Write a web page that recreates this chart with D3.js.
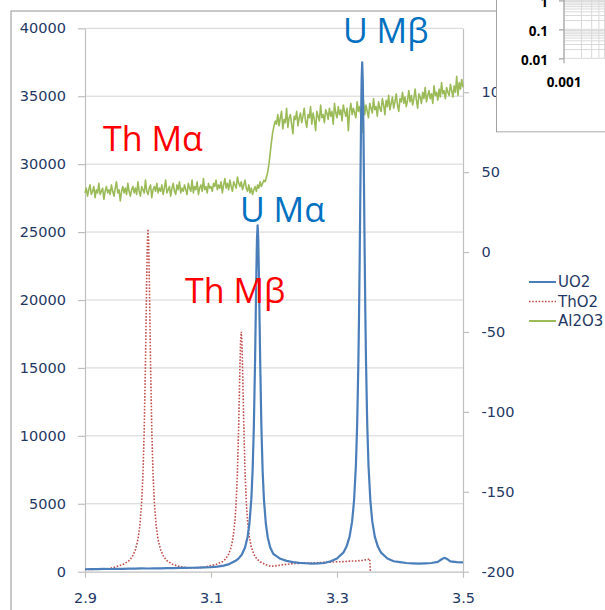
<!DOCTYPE html>
<html>
<head>
<meta charset="utf-8">
<script src="https://cdn.jsdelivr.net/npm/d3@7"></script>
<style>
  html, body { margin: 0; padding: 0; background: #ffffff; }
  svg { display: block; }
</style>
</head>
<body>
<svg id="chart" width="605" height="610"></svg>
<script>
// ---------------- DATA ----------------
const xTicks = [2.9, 3.1, 3.3, 3.5];
const leftTicks = [0, 5000, 10000, 15000, 20000, 25000, 30000, 35000, 40000];
const rightTicks = [-200, -150, -100, -50, 0, 50, 100];
const seriesNames = ["UO2", "ThO2", "Al2O3"];

// UO2 spectrum [energy keV, counts] (primary axis)
const uo2 = [[2.900,180],[2.910,195],[2.920,185],[2.930,205],[2.940,200],[2.950,215],[2.960,210],[2.970,230],[2.980,225],[2.990,240],[3.000,235],[3.010,250],[3.020,245],[3.030,265],[3.040,260],[3.050,275],[3.060,280],[3.070,290],[3.080,300],[3.090,320],[3.100,340],[3.110,380],[3.120,450],[3.129,560],[3.139,800],[3.144,980],[3.149,1270],[3.154,1780],[3.158,2540],[3.161,3550],[3.164,5340],[3.166,7380],[3.168,10630],[3.170,15670],[3.171,18820],[3.172,22020],[3.173,24530],[3.174,25500],[3.175,24530],[3.176,22020],[3.177,18820],[3.178,15670],[3.180,10630],[3.182,7380],[3.184,5340],[3.187,3550],[3.190,2540],[3.194,1780],[3.199,1300],[3.204,1150],[3.210,950],[3.220,800],[3.230,710],[3.240,650],[3.250,620],[3.260,600],[3.270,610],[3.280,640],[3.290,770],[3.300,970],[3.310,1400],[3.315,1830],[3.320,2580],[3.324,3700],[3.327,5190],[3.330,7820],[3.332,10830],[3.334,15610],[3.335,18950],[3.336,23030],[3.337,27670],[3.338,32380],[3.339,36070],[3.340,37500],[3.341,36070],[3.342,32380],[3.343,27670],[3.344,23030],[3.345,18950],[3.346,15610],[3.348,10830],[3.350,7820],[3.353,5190],[3.356,3700],[3.360,2580],[3.365,1830],[3.370,1400],[3.380,970],[3.390,770],[3.400,700],[3.410,640],[3.420,610],[3.430,590],[3.440,610],[3.450,640],[3.460,720],[3.465,880],[3.470,1020],[3.475,930],[3.480,760],[3.490,700],[3.500,680]];

// ThO2 spectrum [energy keV, counts] (primary axis)
const tho2 = [[2.900,170],[2.910,160],[2.920,190],[2.930,200],[2.940,240],[2.950,380],[2.960,520],[2.970,810],[2.975,1100],[2.980,1610],[2.984,2360],[2.987,3370],[2.990,5150],[2.992,7180],[2.994,10420],[2.996,15440],[2.997,18580],[2.998,21770],[2.999,24260],[3.000,25230],[3.001,24260],[3.002,21770],[3.003,18580],[3.004,15440],[3.006,10420],[3.008,7180],[3.010,5150],[3.013,3370],[3.016,2360],[3.020,1610],[3.025,1100],[3.030,810],[3.040,520],[3.050,380],[3.060,300],[3.070,280],[3.080,290],[3.090,330],[3.098,430],[3.108,530],[3.118,730],[3.123,930],[3.128,1280],[3.132,1810],[3.135,2510],[3.138,3740],[3.140,5150],[3.142,7390],[3.144,10870],[3.146,15260],[3.147,16990],[3.148,17660],[3.149,16990],[3.150,15260],[3.152,10870],[3.154,7390],[3.156,5150],[3.158,3740],[3.161,2510],[3.164,1810],[3.168,1280],[3.173,930],[3.178,730],[3.185,560],[3.190,470],[3.195,400],[3.200,420],[3.210,480],[3.220,540],[3.230,600],[3.240,610],[3.250,650],[3.260,640],[3.270,670],[3.280,690],[3.290,700],[3.300,730],[3.310,740],[3.320,780],[3.330,790],[3.340,830],[3.345,870],[3.350,910],[3.352,950],[3.353,0]];

// Al2O3 spectrum (secondary axis), sampled every 0.002 keV from 2.900
const al2o3Start = 2.900;
const al2o3Step = 0.002;
const al2o3 = [
  37,40,35,39,42,36,38,41,34,39,37,43,36,38,40,33,38,41,37,39,
  36,42,38,35,40,44,37,39,32,38,41,37,40,36,43,38,35,39,41,37,
  40,36,44,38,35,41,39,37,45,38,36,40,42,34,39,41,38,43,37,40,
  38,42,36,40,45,37,39,41,35,40,43,38,36,42,39,44,37,40,38,42,
  39,36,43,40,38,45,37,41,39,44,36,40,42,38,46,39,41,37,43,40,41,
  38,43,41,45,39,42,40,44,37,42,46,40,43,39,45,41,38,44,42,40,
  47,43,41,44,39,42,45,40,38,42,37,40,36,39,41,38,42,40,44,41,43,45,
  44,47,50,55,62,69,75,79,82,80,
  86,79,84,88,77,83,81,90,78,84,86,80,74,85,83,88,79,84,87,81,
  85,90,82,78,86,84,91,80,87,83,76,88,85,82,92,84,86,81,89,87,
  83,90,85,88,80,93,87,84,91,86,89,82,92,88,85,90,76,88,93,86,
  90,87,84,94,88,91,85,75,95,86,92,88,84,93,90,87,96,89,91,85,
  94,90,88,96,92,86,95,91,98,89,93,97,90,94,99,92,88,96,94,100,
  93,97,91,95,101,94,98,92,96,102,95,90,99,97,93,100,96,103,94,98,
  101,96,99,93,104,98,100,95,102,97,106,99,101,96,103,100,98,105,101,97,
  104,100,110,98,106,102,108,103
];

// Inset (fragment of another log-log chart)
const insetYTicks = [1, 0.1, 0.01];
const insetXTicks = [0.001];

// ---------------- DRAWING ----------------
const svg = d3.select("#chart");
const navy = "#1f3864";
const axisFont = "'DejaVu Sans', sans-serif";
const labelFont = "'Open Sans', sans-serif";

const x = d3.scaleLinear().domain([2.9, 3.5]).range([85, 463]);
const yL = d3.scaleLinear().domain([0, 40000]).range([571.7, 28.3]);
const yR = d3.scaleLinear().domain([-200, 140]).range([571.7, 28.3]);

// outer chart-area frame
svg.append("rect").attr("x", 11).attr("y", 11).attr("width", 800).attr("height", 800)
  .attr("fill", "none").attr("stroke", "#a6a6a6").attr("stroke-width", 1.2);

// gridlines
svg.append("g").selectAll("line").data(leftTicks.filter(d => d > 0)).join("line")
  .attr("x1", x(2.9)).attr("x2", x(3.5))
  .attr("y1", d => yL(d)).attr("y2", d => yL(d))
  .attr("stroke", "#d4d4d4").attr("stroke-width", 1);

// axes
function styleAxis(g) {
  g.selectAll("path").attr("stroke", "#bfbfbf").attr("stroke-width", 1.2);
  g.selectAll("line").attr("stroke", "#bfbfbf").attr("stroke-width", 1.2);
  g.selectAll("text").attr("fill", navy).attr("font-family", axisFont).attr("font-size", "14.5px");
}
const plain = d => String(d);
svg.append("g").attr("transform", "translate(85,0)")
  .call(d3.axisLeft(yL).tickValues(leftTicks).tickSize(7).tickSizeOuter(0).tickPadding(12).tickFormat(plain))
  .call(styleAxis);
svg.append("g").attr("transform", "translate(463,0)")
  .call(d3.axisRight(yR).tickValues(rightTicks).tickSize(6).tickSizeOuter(0).tickPadding(12.5).tickFormat(plain))
  .call(styleAxis);
svg.append("g").attr("transform", "translate(0,571.7)")
  .call(d3.axisBottom(x).tickValues(xTicks).tickSize(6).tickSizeOuter(0).tickPadding(15).tickFormat(d3.format(".1f")))
  .call(styleAxis);

// series
const lineL = d3.line().x(d => x(d[0])).y(d => yL(d[1]));
const lineR = d3.line().x((d, i) => x(al2o3Start + i * al2o3Step)).y(d => yR(d));

svg.append("path").datum(al2o3).attr("d", lineR)
  .attr("fill", "none").attr("stroke", "#9bbb59").attr("stroke-width", 1.6).attr("stroke-linejoin", "round");
svg.append("path").datum(tho2).attr("d", lineL)
  .attr("fill", "none").attr("stroke", "#c0504d").attr("stroke-width", 1.6)
  .attr("stroke-dasharray", "1.6,1.6");
svg.append("path").datum(uo2).attr("d", lineL)
  .attr("fill", "none").attr("stroke", "#4a7ebb").attr("stroke-width", 2.2).attr("stroke-linejoin", "round");

// annotations
function addLabel(text, px, py, color) {
  svg.append("text").attr("x", px).attr("y", py).text(text)
    .attr("fill", color).attr("font-family", labelFont).attr("font-size", "34px");
}
addLabel("Th M\u03b1", 103, 151, "#ff0000");
addLabel("Th M\u03b2", 185, 303, "#ff0000");
addLabel("U M\u03b1", 240, 222, "#0070c0");
addLabel("U M\u03b2", 343, 43, "#0070c0");

// legend
const legendColors = ["#4a7ebb", "#c0504d", "#9bbb59"];
const legendDash = [null, "1.6,1.6", null];
const lg = svg.append("g");
seriesNames.forEach((name, i) => {
  const ly = 282 + i * 19.5;
  lg.append("line").attr("x1", 529).attr("x2", 556).attr("y1", ly).attr("y2", ly)
    .attr("stroke", legendColors[i]).attr("stroke-width", i === 1 ? 1.6 : 2)
    .attr("stroke-dasharray", legendDash[i]);
  lg.append("text").attr("x", 558).attr("y", ly).attr("dy", "0.36em").text(name)
    .attr("fill", navy).attr("font-family", axisFont).attr("font-size", "15px");
});

// inset (top right)
const inset = svg.append("g");
inset.append("clipPath").attr("id", "insetClip").append("rect")
  .attr("x", 496).attr("y", -10).attr("width", 200).attr("height", 142.3);
const ig = inset.append("g").attr("clip-path", "url(#insetClip)");
ig.append("rect").attr("x", 496).attr("y", -10).attr("width", 200).attr("height", 142.3)
  .attr("fill", "#ffffff").attr("stroke", "#8c8c8c").attr("stroke-width", 1.6);
const ix = d3.scaleLog().domain([0.001, 0.01]).range([564, 622]);
const iy = d3.scaleLog().domain([0.01, 1]).range([58.3, 0.3]);
ig.append("g").selectAll("line").data(iy.ticks()).join("line")
  .attr("x1", 564).attr("x2", 640).attr("y1", d => iy(d)).attr("y2", d => iy(d))
  .attr("stroke", "#d9d9d9").attr("stroke-width", 1);
ig.append("g").selectAll("line").data(ix.ticks()).join("line")
  .attr("x1", d => ix(d)).attr("x2", d => ix(d)).attr("y1", -10).attr("y2", 58.3)
  .attr("stroke", "#d9d9d9").attr("stroke-width", 1);
ig.append("g").attr("transform", "translate(564,0)")
  .call(d3.axisLeft(iy).tickValues(insetYTicks).tickSize(5).tickSizeOuter(0).tickPadding(11).tickFormat(d => String(d)))
  .call(g => {
    g.select("path").attr("d", "M0,-10V63.3").attr("stroke", "#a6a6a6").attr("stroke-width", 1.2);
    g.selectAll("line").attr("stroke", "#a6a6a6").attr("stroke-width", 1.2);
    g.selectAll("text").attr("fill", "#000").attr("font-family", labelFont)
      .attr("font-weight", "bold").attr("font-size", "13.5px").attr("dy", "0.45em");
  });
ig.append("g").selectAll("text").data(insetXTicks).join("text")
  .attr("x", d => ix(d)).attr("y", 82.5).attr("dy", "0.36em").attr("text-anchor", "middle")
  .text(d => String(d))
  .attr("fill", "#000").attr("font-family", labelFont).attr("font-weight", "bold").attr("font-size", "13.5px");
</script>
</body>
</html>
